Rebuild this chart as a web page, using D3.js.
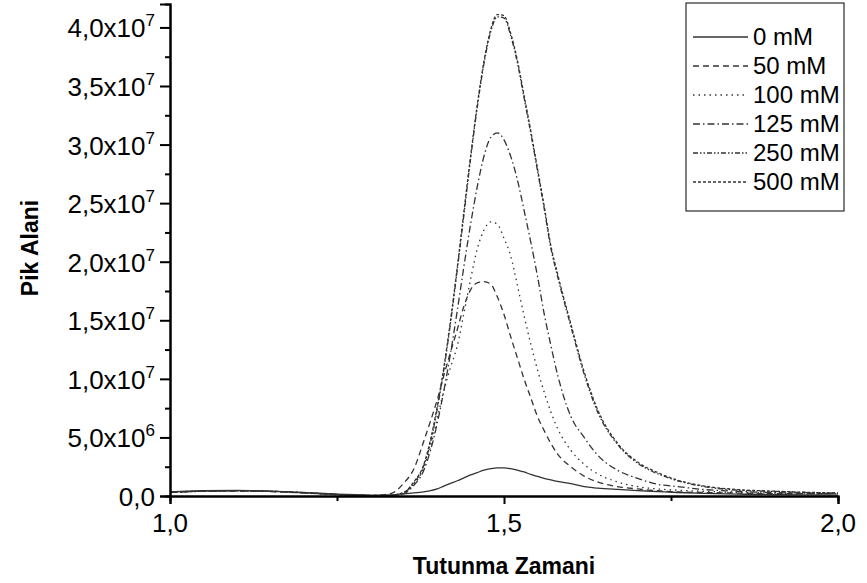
<!DOCTYPE html>
<html>
<head>
<meta charset="utf-8">
<script src="https://cdn.jsdelivr.net/npm/d3@7"></script>
<style>
  html, body { margin: 0; padding: 0; background: #fff; }
  svg { display: block; font-family: "Liberation Sans", Arial, Helvetica, sans-serif; }
</style>
</head>
<body>
<svg id="chart" width="867" height="583"></svg>
<script>
// Retention time grid (min) shared by every chromatogram trace
const times = [1.00, 1.05, 1.10, 1.15, 1.20, 1.25, 1.30, 1.33, 1.35, 1.365, 1.38, 1.39,
  1.40, 1.41, 1.42, 1.43, 1.44, 1.45, 1.46, 1.47, 1.48, 1.49, 1.50, 1.51, 1.52, 1.53,
  1.54, 1.55, 1.56, 1.57, 1.58, 1.60, 1.62, 1.64, 1.67, 1.70, 1.73, 1.76, 1.80, 1.85,
  1.90, 1.95, 2.00];

// Peak area signal, in units of 1e6
const area0 = [0.35, 0.45, 0.48, 0.42, 0.30, 0.15, 0.08, 0.10, 0.18, 0.26, 0.36, 0.45,
  0.60, 0.85, 1.08, 1.30, 1.55, 1.80, 2.00, 2.20, 2.33, 2.40, 2.40, 2.33, 2.20, 2.05,
  1.85, 1.68, 1.50, 1.38, 1.25, 1.05, 0.80, 0.68, 0.56, 0.46, 0.38, 0.30, 0.22, 0.16,
  0.12, 0.10, 0.08];
const area50 = [0.30, 0.40, 0.42, 0.38, 0.26, 0.12, 0.04, 0.20, 1.10, 2.30, 4.70, 6.40,
  8.20, 10.3, 12.3, 14.2, 16.2, 17.6, 18.2, 18.3, 18.1, 17.0, 15.5, 13.6, 11.8, 10.0,
  8.40, 6.80, 5.60, 4.50, 3.60, 2.50, 1.70, 1.20, 0.80, 0.60, 0.45, 0.35, 0.30, 0.25,
  0.20, 0.20, 0.20];
const area100 = [0.32, 0.41, 0.43, 0.39, 0.27, 0.12, 0.04, 0.03, 0.25, 1.00, 2.40, 4.20,
  6.60, 9.00, 11.0, 12.8, 15.6, 18.5, 21.1, 22.7, 23.4, 23.2, 22.0, 20.5, 18.0, 15.4,
  13.0, 10.8, 8.90, 7.20, 5.80, 3.90, 2.70, 1.90, 1.20, 0.80, 0.60, 0.50, 0.40, 0.30,
  0.25, 0.20, 0.20];
const area125 = [0.31, 0.40, 0.44, 0.40, 0.28, 0.13, 0.04, 0.03, 0.20, 0.90, 2.20, 3.90,
  6.20, 9.00, 12.2, 15.8, 19.6, 23.2, 26.4, 29.0, 30.6, 31.0, 30.4, 29.0, 27.0, 24.4,
  21.7, 18.8, 15.6, 12.9, 10.4, 6.80, 5.00, 3.50, 2.20, 1.50, 1.00, 0.80, 0.55, 0.40,
  0.30, 0.25, 0.20];
const area250 = [0.34, 0.42, 0.45, 0.40, 0.28, 0.12, 0.03, 0.05, 0.30, 1.10, 2.60, 4.60,
  7.40, 10.8, 14.8, 19.3, 24.0, 28.8, 33.2, 36.9, 39.6, 40.9, 40.8, 39.3, 37.0, 34.0,
  31.0, 27.8, 24.6, 21.2, 18.8, 14.5, 10.4, 7.20, 4.40, 2.80, 1.90, 1.30, 0.80, 0.50,
  0.40, 0.30, 0.25];
const area500 = [0.33, 0.43, 0.46, 0.41, 0.29, 0.13, 0.04, 0.06, 0.32, 1.20, 2.70, 4.80,
  7.60, 11.0, 15.0, 19.5, 24.3, 29.0, 33.4, 37.1, 39.8, 41.1, 41.0, 39.5, 37.2, 34.2,
  31.2, 28.0, 24.8, 21.4, 19.0, 14.7, 10.6, 7.40, 4.50, 2.90, 2.00, 1.35, 0.85, 0.55,
  0.42, 0.32, 0.26];

const seriesNames = ["0 mM", "50 mM", "100 mM", "125 mM", "250 mM", "500 mM"];
const seriesValues = [area0, area50, area100, area125, area250, area500];
const seriesDash = [null, "6,4", "1.5,4", "7,3,1.5,3", "5,2,1.5,2,1.5,2", "3,2"];

const yTickValues = [0, 5e6, 1e7, 1.5e7, 2e7, 2.5e7, 3e7, 3.5e7, 4e7];
const yTickMain = ["0,0", "5,0x10", "1,0x10", "1,5x10", "2,0x10", "2,5x10", "3,0x10", "3,5x10", "4,0x10"];
const yTickExp = ["", "6", "7", "7", "7", "7", "7", "7", "7"];
const xTickValues = [1.0, 1.5, 2.0];
const xTickLabels = ["1,0", "1,5", "2,0"];

const svg = d3.select("#chart");
const x = d3.scaleLinear().domain([1.0, 2.0]).range([170, 838]);
const y = d3.scaleLinear().domain([0, 4.2e7]).range([496, 4]);

const ink = "#333";

// Traces
const line = d3.line()
  .x(d => x(d[0]))
  .y(d => y(d[1] * 1e6))
  .curve(d3.curveMonotoneX);

seriesValues.forEach((vals, i) => {
  const pts = times.map((t, j) => [t, vals[j]]);
  svg.append("path")
    .datum(pts)
    .attr("d", line)
    .attr("fill", "none")
    .attr("stroke", ink)
    .attr("stroke-width", 1.3)
    .attr("stroke-dasharray", seriesDash[i]);
});

// Axes
const axisG = svg.append("g");

const yMinor = d3.range(2.5e6, 4.2e7, 5e6);
const xMinor = [1.25, 1.75];

const yAxis = d3.axisLeft(y).tickValues(yTickValues).tickSize(10).tickFormat("");
const yAxisMinor = d3.axisLeft(y).tickValues(yMinor).tickSize(5).tickFormat("");
const xAxis = d3.axisBottom(x).tickValues(xTickValues).tickSize(8).tickFormat("");
const xAxisMinor = d3.axisBottom(x).tickValues(xMinor).tickSize(5).tickFormat("");

function styleAxis(g) {
  g.selectAll("path.domain").attr("stroke", "#000").attr("stroke-width", 2);
  g.selectAll(".tick line").attr("stroke", "#000").attr("stroke-width", 2);
}

axisG.append("g").attr("transform", "translate(170,0)").call(yAxis).call(styleAxis);
axisG.append("g").attr("transform", "translate(170,0)").call(yAxisMinor).call(styleAxis);
axisG.append("g").attr("transform", "translate(0,496)").call(xAxis).call(styleAxis);
axisG.append("g").attr("transform", "translate(0,496)").call(xAxisMinor).call(styleAxis);

// Y tick labels with exponent
yTickValues.forEach((v, i) => {
  const t = svg.append("text")
    .attr("x", 155)
    .attr("y", y(v) + 10)
    .attr("text-anchor", "end")
    .attr("font-size", 26)
    .attr("fill", "#000");
  t.append("tspan").text(yTickMain[i]);
  if (yTickExp[i]) {
    t.append("tspan").attr("dy", -11).attr("font-size", 17).text(yTickExp[i]);
  }
});

// X tick labels
xTickValues.forEach((v, i) => {
  svg.append("text")
    .attr("x", x(v))
    .attr("y", 532)
    .attr("text-anchor", "middle")
    .attr("font-size", 26)
    .attr("fill", "#000")
    .text(xTickLabels[i]);
});

// Axis titles
svg.append("text")
  .attr("transform", "translate(38,248) rotate(-90)")
  .attr("text-anchor", "middle")
  .attr("font-size", 23)
  .attr("font-weight", "bold")
  .text("Pik Alani");

svg.append("text")
  .attr("x", 504)
  .attr("y", 574)
  .attr("text-anchor", "middle")
  .attr("font-size", 23)
  .attr("font-weight", "bold")
  .text("Tutunma Zamani");

// Legend
const legend = svg.append("g");
legend.append("rect")
  .attr("x", 686).attr("y", 3)
  .attr("width", 158).attr("height", 208)
  .attr("fill", "#fff").attr("stroke", "#000").attr("stroke-width", 1);

seriesNames.forEach((name, i) => {
  const cy = 37 + i * 29;
  legend.append("line")
    .attr("x1", 693).attr("x2", 748)
    .attr("y1", cy).attr("y2", cy)
    .attr("stroke", ink).attr("stroke-width", 1.3)
    .attr("stroke-dasharray", seriesDash[i]);
  legend.append("text")
    .attr("x", 753).attr("y", cy + 8)
    .attr("font-size", 24)
    .attr("fill", "#000")
    .text(name);
});
</script>
</body>
</html>
